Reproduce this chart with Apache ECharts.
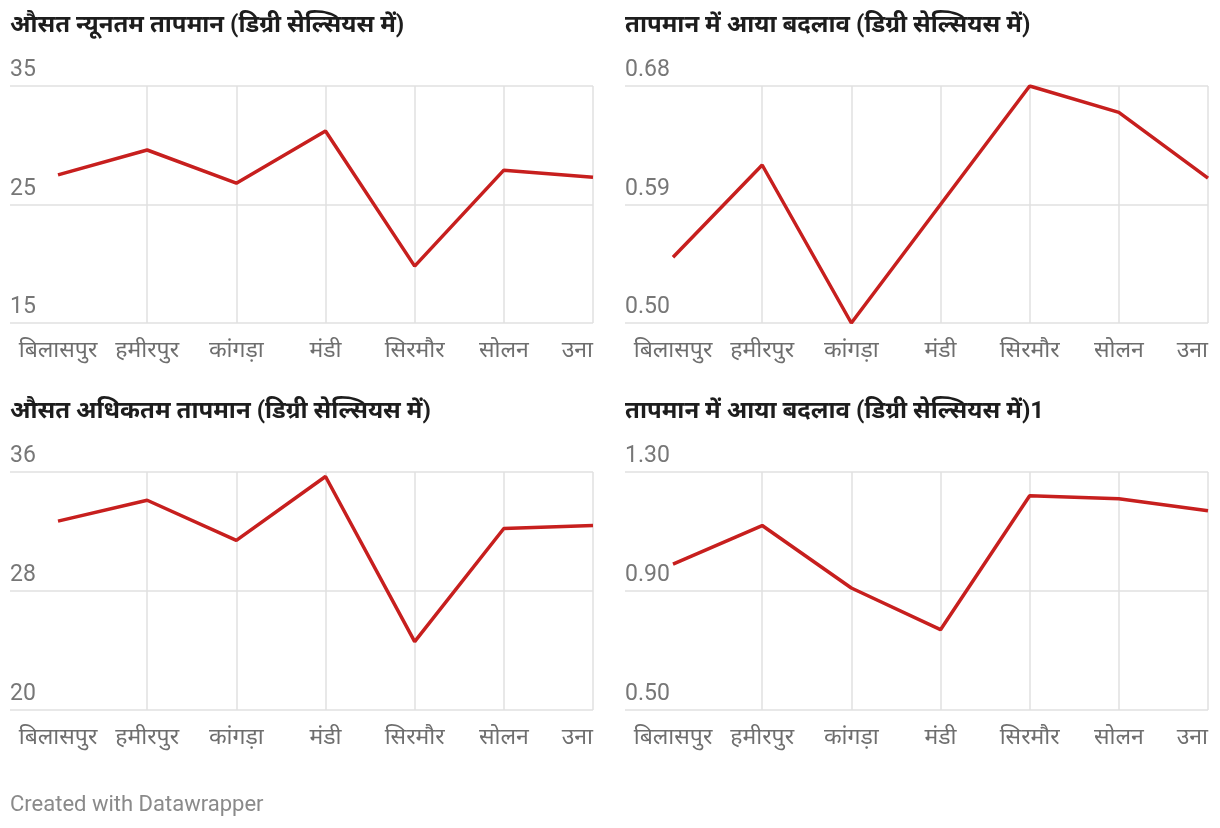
<!DOCTYPE html>
<html>
<head>
<meta charset="utf-8">
<script src="https://cdn.jsdelivr.net/npm/echarts@6/dist/echarts.min.js"></script>
<style>
  html, body { margin: 0; padding: 0; background: #fff; }
  #main { width: 1220px; height: 828px; }
</style>
</head>
<body>
<div id="main"></div>
<script>
  // जिले (x-axis)
  var districts = ['बिलासपुर', 'हमीरपुर', 'कांगड़ा', 'मंडी', 'सिरमौर', 'सोलन', 'उना'];

  // चार पैनल का डेटा
  var minTemp = [27.5, 29.6, 26.8, 31.2, 19.8, 27.9, 27.3];
  var minTempChange = [0.55, 0.62, 0.50, 0.59, 0.68, 0.66, 0.61];
  var maxTemp = [32.7, 34.1, 31.4, 35.7, 24.6, 32.2, 32.4];
  var maxTempChange = [0.99, 1.12, 0.91, 0.77, 1.22, 1.21, 1.17];

  var titles = [
    'औसत न्यूनतम तापमान (डिग्री सेल्सियस में)',
    'तापमान में आया बदलाव (डिग्री सेल्सियस में)',
    'औसत अधिकतम तापमान (डिग्री सेल्सियस में)',
    'तापमान में आया बदलाव (डिग्री सेल्सियस में)1'
  ];
  // y-axis ticks [min, max, step, decimals]
  var yTicks = [
    [15, 35, 10, 0],
    [0.50, 0.68, 0.09, 2],
    [20, 36, 8, 0],
    [0.50, 1.30, 0.40, 2]
  ];
  var seriesData = [minTemp, minTempChange, maxTemp, maxTempChange];

  var FONT = 'Roboto, "Noto Sans", sans-serif';
  var RED = '#c71f1e';
  var GRID = '#e1e1e1';

  // panel boxes: outer left, plot left (first category), right edge, top, bottom
  var panels = [
    { outer: 10, left: 58, right: 593, top: 86, bottom: 323, titleTop: 14 },
    { outer: 625, left: 673, right: 1208, top: 86, bottom: 323, titleTop: 14 },
    { outer: 10, left: 58, right: 593, top: 472, bottom: 710, titleTop: 400 },
    { outer: 625, left: 673, right: 1208, top: 472, bottom: 710, titleTop: 400 }
  ];

  var grid = [], xAxis = [], yAxis = [], series = [], title = [];

  panels.forEach(function (p, i) {
    var t = yTicks[i];
    title.push({
      text: titles[i],
      left: p.outer, top: p.titleTop, padding: 0,
      textStyle: { fontFamily: FONT, fontSize: 24, fontWeight: 'bold', color: '#1d1d1d' }
    });

    // grid A: full width, horizontal lines + y labels
    grid.push({ left: p.outer, width: p.right - p.outer, top: p.top, height: p.bottom - p.top });
    xAxis.push({ type: 'value', gridIndex: 2 * i, show: false, min: 0, max: 1 });
    yAxis.push({
      type: 'value', gridIndex: 2 * i,
      min: t[0], max: t[1], interval: t[2],
      axisLine: { show: false }, axisTick: { show: false },
      splitLine: { show: true, lineStyle: { color: GRID, width: 1.5 } },
      axisLabel: {
        inside: true, margin: 0, verticalAlign: 'bottom',
        padding: [0, 0, 4, 0],
        fontFamily: FONT, fontSize: 23, color: '#777777',
        formatter: function (v) { return v.toFixed(t[3]); }
      }
    });

    // grid B: starts at first category, holds the line
    grid.push({ left: p.left, width: p.right - p.left, top: p.top, height: p.bottom - p.top });
    xAxis.push({
      type: 'category', gridIndex: 2 * i + 1, data: districts, boundaryGap: false,
      axisLine: { show: false }, axisTick: { show: false },
      splitLine: {
        show: true,
        interval: function (idx) { return idx > 0; },
        lineStyle: { color: GRID, width: 1.5 }
      },
      axisLabel: {
        interval: 0, margin: 17, alignMaxLabel: 'right',
        fontFamily: FONT, fontSize: 23, color: '#6e6e6e'
      }
    });
    yAxis.push({ type: 'value', gridIndex: 2 * i + 1, min: t[0], max: t[1], show: false });

    series.push({
      type: 'line', xAxisIndex: 2 * i + 1, yAxisIndex: 2 * i + 1,
      data: seriesData[i], showSymbol: false, silent: true,
      lineStyle: { color: RED, width: 3.5 }
    });
  });

  title.push({
    text: 'Created with Datawrapper', left: 10, top: 794, padding: 0,
    textStyle: { fontFamily: FONT, fontSize: 22, fontWeight: 'normal', color: '#8a8a8a' }
  });

  var chart = echarts.init(document.getElementById('main'), null, { renderer: 'canvas' });
  chart.setOption({
    animation: false,
    backgroundColor: '#fff',
    title: title,
    grid: grid,
    xAxis: xAxis,
    yAxis: yAxis,
    series: series
  });
</script>
</body>
</html>
